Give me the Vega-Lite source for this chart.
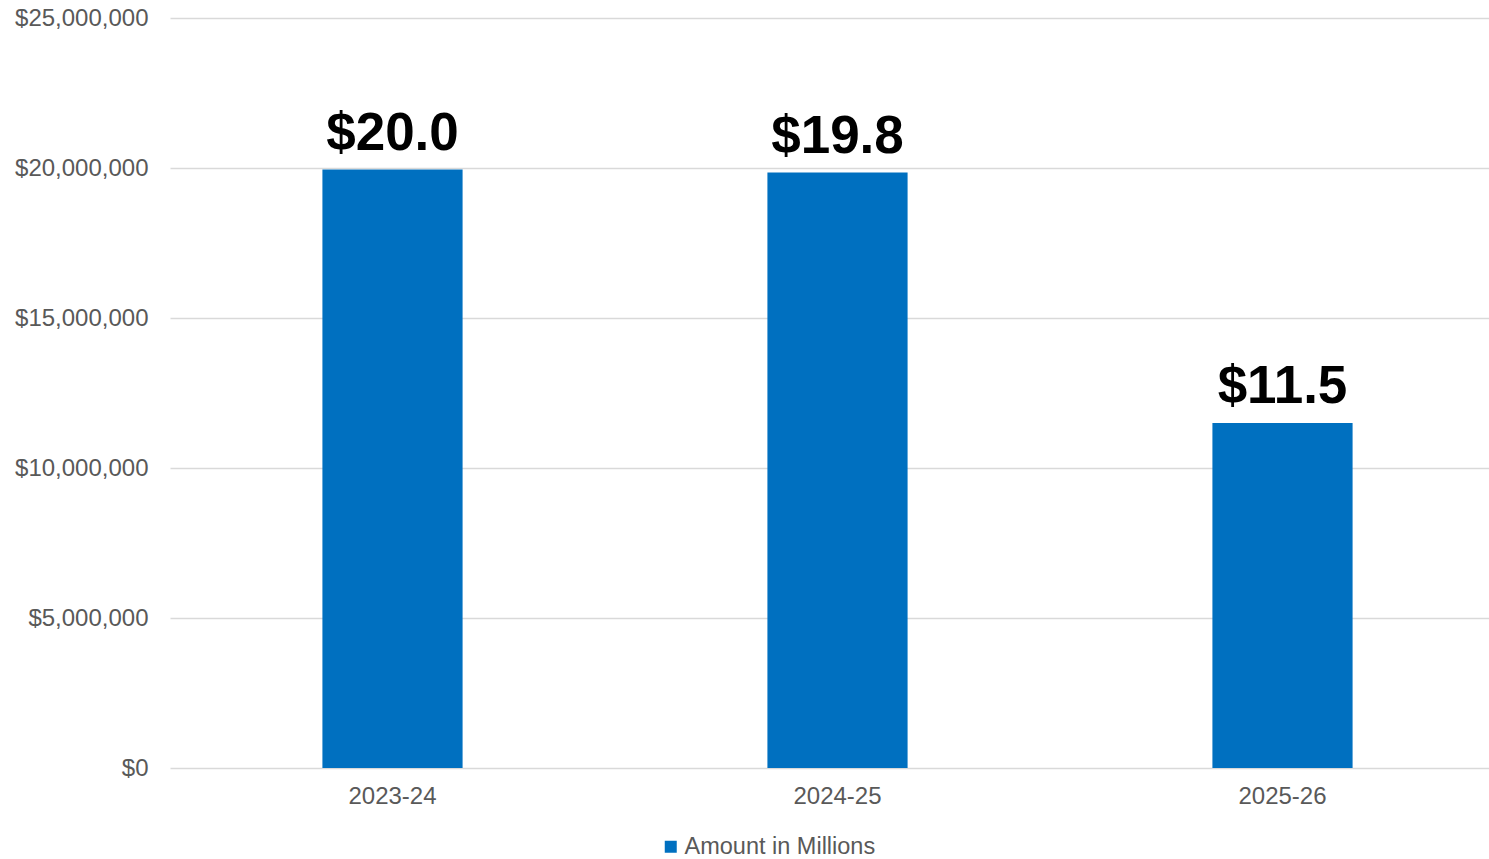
{
  "$schema": "https://vega.github.io/schema/vega-lite/v6.json",
  "width": 1335,
  "height": 750,
  "autosize": {"type": "none"},
  "padding": {"left": 170, "top": 18, "right": 0, "bottom": 91},
  "background": "white",
  "config": {
    "view": {"stroke": null},
    "font": "Liberation Sans"
  },
  "data": {
    "values": [
      {"year": "2023-24", "amount": 19950000, "label": "$20.0", "series": "Amount in Millions"},
      {"year": "2024-25", "amount": 19850000, "label": "$19.8", "series": "Amount in Millions"},
      {"year": "2025-26", "amount": 11500000, "label": "$11.5", "series": "Amount in Millions"}
    ]
  },
  "encoding": {
    "x": {
      "field": "year",
      "type": "nominal",
      "title": null,
      "scale": {"paddingInner": 0.685, "paddingOuter": 0.3425},
      "axis": {
        "labelAngle": 0,
        "labelFont": "Liberation Sans",
        "labelFontSize": 24,
        "labelColor": "#595959",
        "labelPadding": 16,
        "ticks": false,
        "domain": false,
        "grid": false
      }
    },
    "y": {
      "field": "amount",
      "type": "quantitative",
      "title": null,
      "scale": {"domain": [0, 25000000]},
      "axis": {
        "values": [0, 5000000, 10000000, 15000000, 20000000, 25000000],
        "format": "$,.0f",
        "labelFont": "Liberation Sans",
        "labelFontSize": 24,
        "labelColor": "#595959",
        "labelPadding": 22,
        "ticks": false,
        "domain": false,
        "grid": true,
        "gridColor": "#d9d9d9",
        "gridWidth": 1.5
      }
    }
  },
  "layer": [
    {
      "mark": {"type": "bar"},
      "encoding": {
        "color": {
          "field": "series",
          "type": "nominal",
          "scale": {"domain": ["Amount in Millions"], "range": ["#0070C0"]},
          "legend": {
            "title": null,
            "orient": "none",
            "legendX": 489,
            "legendY": 817,
            "symbolType": "square",
            "symbolSize": 144,
            "symbolStrokeWidth": 0,
            "labelFont": "Liberation Sans",
            "labelFontSize": 23.5,
            "labelColor": "#595959",
            "labelOffset": 2,
            "labelLimit": 0
          }
        }
      }
    },
    {
      "mark": {
        "type": "text",
        "font": "Liberation Sans",
        "fontSize": 53,
        "fontWeight": "bold",
        "color": "#000000",
        "baseline": "alphabetic",
        "dy": -20
      },
      "encoding": {
        "text": {"field": "label", "type": "nominal"}
      }
    }
  ]
}
